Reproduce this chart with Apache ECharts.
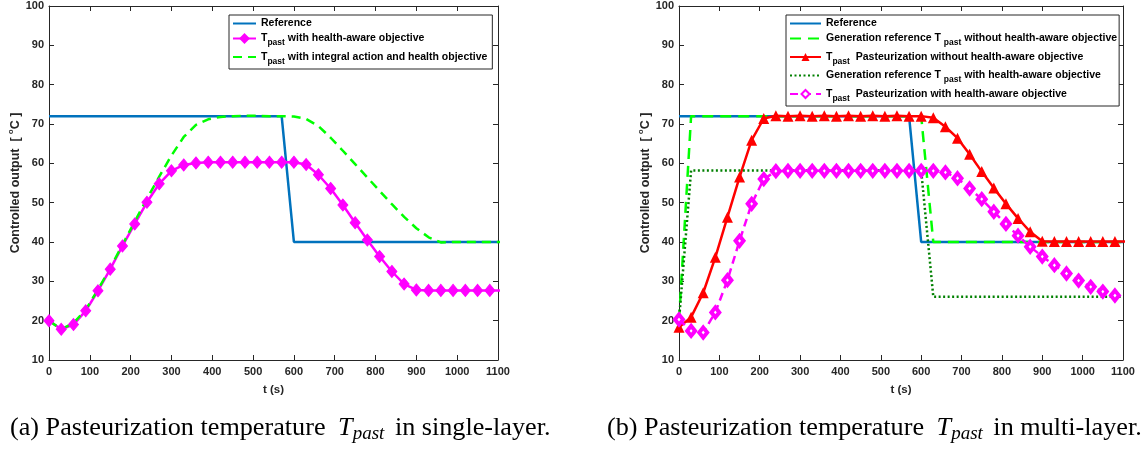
<!DOCTYPE html>
<html>
<head>
<meta charset="utf-8">
<script src="https://cdn.jsdelivr.net/npm/echarts@6/dist/echarts.min.js"></script>
<style>
  html, body { margin: 0; padding: 0; background: #fff; }
  #chart { width: 1147px; height: 453px; }
</style>
</head>
<body>
<div id="chart"></div>
<script>
// sample times (s), every 30 s
const tSample = [0, 30, 60, 90, 120, 150, 180, 210, 240, 270, 300, 330, 360, 390, 420, 450, 480, 510, 540, 570,
  600, 630, 660, 690, 720, 750, 780, 810, 840, 870, 900, 930, 960, 990, 1020, 1050, 1080, 1110]

// reference set point (both plots)
const tRef = [0, 570, 600, 1100]
const refVals = [72, 72, 40, 40]

// (a) single-layer
const healthSingle = [20, 17.8, 19, 22.5, 27.6, 33.1, 39, 44.6, 50.1, 54.8, 58.1, 59.6, 60.1, 60.3, 60.3, 60.3, 60.3, 60.3, 60.3, 60.3,
  60.3, 59.7, 57.1, 53.6, 49.4, 44.9, 40.5, 36.3, 32.5, 29.3, 27.8, 27.7, 27.7, 27.7, 27.7, 27.7, 27.7, 27.7]
const integralSingle = [20, 17.8, 19.4, 22.8, 27.9, 33.4, 39.3, 45.2, 51, 56.6, 62, 66.7, 69.8, 71.2, 71.8, 72, 72.1, 72.1, 72, 72,
  71.9, 71.3, 69.5, 66.5, 63.2, 59.8, 56.4, 53, 49.6, 46.4, 43.5, 41.2, 39.9, 40, 40, 40, 40, 40]

// (b) multi-layer
const tGen = [0, 30, 600, 630, 1100]
const genNoHealth = [20, 72, 72, 40, 40]
const genHealth = [20, 58.2, 58.2, 26.1, 26.1]
const pastNoHealth = [18.3, 20.9, 27.1, 36.1, 46.3, 56.5, 65.9, 71.4, 72.1, 72, 72.1, 72, 72.1, 72, 72.1, 72, 72.1, 72, 72.1, 72,
  72, 71.6, 69.3, 66.4, 62.3, 57.9, 53.7, 49.7, 46, 42.6, 40.2, 40.1, 40.1, 40.1, 40.1, 40.1, 40.1, 40.1]
const pastHealth = [20.3, 17.4, 17, 22.1, 30.3, 40.3, 49.7, 56, 58, 58.1, 58.1, 58.1, 58.1, 58.1, 58.1, 58.1, 58.1, 58.1, 58.1, 58.1,
  58.1, 58.1, 57.7, 56.2, 53.6, 50.9, 47.7, 44.6, 41.6, 38.8, 36.3, 34.1, 32, 30.2, 28.6, 27.4, 26.4]

const zip = (xs, ys) => ys.map((y, i) => [xs[i], y])

const BLUE = '#0072BD', MAG = '#FF00FF', LGREEN = '#00FF00', DGREEN = '#008000', RED = '#FF0000'
const AX = '#262626'
const FONT = '"Liberation Sans", Arial, sans-serif'
const SERIF = '"Liberation Serif", serif'

const chart = echarts.init(document.getElementById('chart'))

const tickStyle = { show: true, inside: true, length: 5, lineStyle: { color: AX, width: 1 } }
const plainNum = v => String(v)

function xAxes(gi) {
  return [
    {
      gridIndex: gi, type: 'value', min: 0, max: 1100, interval: 100, position: 'bottom',
      name: 't (s)', nameLocation: 'middle', nameGap: 24,
      nameTextStyle: { fontFamily: FONT, fontWeight: 'bold', fontSize: 11.5, color: AX },
      axisLine: { show: true, onZero: false, lineStyle: { color: AX, width: 1 } },
      axisTick: tickStyle,
      axisLabel: { fontFamily: FONT, fontWeight: 'bold', fontSize: 11, color: AX, margin: 6, formatter: plainNum },
      splitLine: { show: false }
    },
    {
      gridIndex: gi, type: 'value', min: 0, max: 1100, interval: 100, position: 'top',
      axisLine: { show: true, onZero: false, lineStyle: { color: AX, width: 1 } },
      axisTick: tickStyle, axisLabel: { show: false }, splitLine: { show: false }
    }
  ]
}

function yAxes(gi) {
  return [
    {
      gridIndex: gi, type: 'value', min: 10, max: 100, interval: 10, position: 'left',
      name: 'Controlled output  [ {u|o}C ]', nameLocation: 'middle', nameGap: 25,
      nameTextStyle: {
        fontFamily: FONT, fontWeight: 'bold', fontSize: 12.5, color: AX,
        rich: { u: { fontFamily: FONT, fontSize: 7.5, color: AX, padding: [0, 0, 9, 0] } }
      },
      axisLine: { show: true, onZero: false, lineStyle: { color: AX, width: 1 } },
      axisTick: tickStyle,
      axisLabel: { fontFamily: FONT, fontWeight: 'bold', fontSize: 11, color: AX, margin: 5, formatter: plainNum },
      splitLine: { show: false }
    },
    {
      gridIndex: gi, type: 'value', min: 10, max: 100, interval: 10, position: 'right',
      axisLine: { show: true, onZero: false, lineStyle: { color: AX, width: 1 } },
      axisTick: tickStyle, axisLabel: { show: false }, splitLine: { show: false }
    }
  ]
}

const legendText = {
  fontFamily: FONT, fontWeight: 'bold', fontSize: 10.5, color: '#000',
  rich: { s: { fontFamily: FONT, fontWeight: 'bold', fontSize: 8.5, color: '#000', padding: [9, 0, 0, 0] } }
}
const legendFmt = name => name.replace('_past', '{s|past}')
// legend entries for series drawn without markers: hide the default icon symbol
const lineOnly = name => ({ name, itemStyle: { opacity: 0 } })

function legendBox(left, itemWidth, padRight, data) {
  return {
    left, top: 15, orient: 'vertical', itemWidth, itemHeight: 10, itemGap: 4,
    padding: [3, padRight, 3, 3], borderColor: AX, borderWidth: 1, backgroundColor: '#fff',
    textStyle: legendText, formatter: legendFmt, selectedMode: false, data
  }
}

function caption(left, text) {
  return {
    type: 'text', left, top: 415,
    style: {
      text, fontFamily: SERIF, fontSize: 26.2, fill: '#000',
      rich: {
        i: { fontFamily: SERIF, fontStyle: 'italic', fontSize: 26.2, color: '#000', padding: [0, 0, 0, 6] },
        s: { fontFamily: SERIF, fontStyle: 'italic', fontSize: 19, color: '#000', padding: [12, 4, 0, 0] }
      }
    }
  }
}

const option = {
  backgroundColor: '#fff',
  animation: false,
  grid: [
    { left: 49, top: 6, width: 449, height: 354 },
    { left: 679, top: 6, width: 444, height: 354 }
  ],
  xAxis: [...xAxes(0), ...xAxes(1)],
  yAxis: [...yAxes(0), ...yAxes(1)],
  legend: [
    legendBox(229, 23, 5, [
      lineOnly('Reference'),
      'T_past with health-aware objective',
      lineOnly('T_past with integral action and health objective')
    ]),
    legendBox(786, 31, 2, [
      lineOnly('Reference '),
      lineOnly('Generation reference T _past without health-aware objective'),
      'T_past  Pasteurization without health-aware objective',
      lineOnly('Generation reference T _past with health-aware objective'),
      'T_past  Pasteurization with health-aware objective'
    ])
  ],
  series: [
    {
      name: 'Reference', type: 'line', xAxisIndex: 0, yAxisIndex: 0, data: zip(tRef, refVals),
      symbol: 'none', lineStyle: { color: BLUE, width: 2.5 }, itemStyle: { color: BLUE }
    },
    {
      name: 'T_past with health-aware objective', type: 'line', xAxisIndex: 0, yAxisIndex: 0,
      data: zip(tSample, healthSingle), symbol: 'diamond', symbolSize: [10, 12],
      lineStyle: { color: MAG, width: 2.5 }, itemStyle: { color: MAG, borderColor: MAG, borderWidth: 1 }
    },
    {
      name: 'T_past with integral action and health objective', type: 'line', xAxisIndex: 0, yAxisIndex: 0,
      data: zip(tSample, integralSingle), symbol: 'none',
      lineStyle: { color: LGREEN, width: 2.5, type: [9, 6] }, itemStyle: { color: LGREEN }
    },
    {
      name: 'Reference ', type: 'line', xAxisIndex: 2, yAxisIndex: 2, data: zip(tRef, refVals),
      symbol: 'none', lineStyle: { color: BLUE, width: 2.5 }, itemStyle: { color: BLUE }
    },
    {
      name: 'Generation reference T _past without health-aware objective', type: 'line', xAxisIndex: 2, yAxisIndex: 2,
      data: zip(tGen, genNoHealth), symbol: 'none',
      lineStyle: { color: LGREEN, width: 2.5, type: [11, 7] }, itemStyle: { color: LGREEN }
    },
    {
      name: 'T_past  Pasteurization without health-aware objective', type: 'line', xAxisIndex: 2, yAxisIndex: 2,
      data: zip(tSample, pastNoHealth), symbol: 'triangle', symbolSize: 11,
      lineStyle: { color: RED, width: 2.5 }, itemStyle: { color: RED }
    },
    {
      name: 'Generation reference T _past with health-aware objective', type: 'line', xAxisIndex: 2, yAxisIndex: 2,
      data: zip(tGen, genHealth), symbol: 'none',
      lineStyle: { color: DGREEN, width: 2.5, type: [2, 2.5] }, itemStyle: { color: DGREEN }
    },
    {
      name: 'T_past  Pasteurization with health-aware objective', type: 'line', xAxisIndex: 2, yAxisIndex: 2,
      data: zip(tSample, pastHealth), symbol: 'diamond', symbolSize: [8, 10],
      lineStyle: { color: MAG, width: 2.5, type: [8, 5] },
      itemStyle: { color: '#fff', borderColor: MAG, borderWidth: 4 }
    }
  ],
  graphic: [
    caption(10, '(a) Pasteurization temperature {i|T}{s|past} in single-layer.'),
    caption(607, '(b) Pasteurization temperature {i|T}{s|past} in multi-layer.')
  ]
}

chart.setOption(option)
</script>
</body>
</html>
